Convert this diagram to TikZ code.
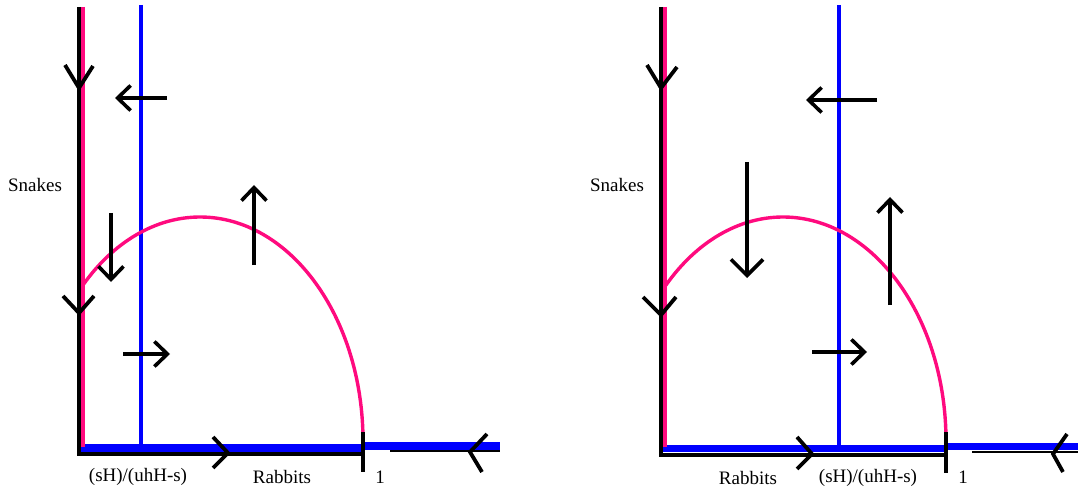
\documentclass[tikz,border=0pt]{standalone}
\usepackage{fontspec}
\setmainfont{Liberation Serif}
\usepackage{tikz}
\usetikzlibrary{arrows.meta}
\definecolor{cline-pink}{HTML}{FF0A7E}
\definecolor{cline-blue}{HTML}{0000FF}
\tikzset{
  phase-axis/.style={draw=black, line width=3.6pt},
  phase-tick/.style={draw=black, line width=3.4pt},
  phase-chevron/.style={draw=black, line width=3.8pt, line join=miter},
  pink-axis/.style={draw=cline-pink, line width=4.5pt},
  pink-curve/.style={draw=cline-pink, line width=3.4pt},
  blue-line/.style={draw=cline-blue, line width=3.2pt},
  blue-band/.style={fill=cline-blue},
  flow-arrow/.style={draw=black, line width=3.6pt, -{Straight Barb[length=13pt, width=25pt]}},
  flow-arrow-big/.style={draw=black, line width=3.6pt, -{Straight Barb[length=16pt, width=32pt]}},
  phase-label/.style={font=\fontsize{19}{22}\selectfont, inner sep=0pt}
}
\begin{document}
\begin{tikzpicture}[x=1pt, y=-1pt]
  \useasboundingbox (0,0) rectangle (1078,494);

  % Left panel: nullclines
  \fill[blue-band] (80,444) rectangle (363,452);
  \fill[blue-band] (363,442) rectangle (500,450);
  \draw[blue-line] (141,5) -- (141,446);
  \draw[pink-axis] (83,7) -- (83,447);
  \draw[pink-curve] (363,441) arc[start angle=0, end angle=-136, x radius=163, y radius=224];

  % Left panel: axes
  \draw[phase-axis] (79,7) -- (79,454) -- (363,454);
  \draw[draw=black, line width=2.4pt] (390,451) -- (500,451);
  \draw[phase-tick] (363,432) -- (363,472);

  % Left panel: flow along the axes
  \draw[phase-chevron] (65,65) -- (79,88) -- (93,66);
  \draw[phase-chevron] (63,296) -- (79,313) -- (94,296);
  \draw[phase-chevron] (213,437) -- (228,453) -- (213,468);
  \draw[phase-chevron] (487,434) -- (470,452) -- (482,472);

  % Left panel: flow in the regions
  \draw[flow-arrow] (167,98) -- (115,98);
  \draw[flow-arrow] (111,213) -- (111,282);
  \draw[flow-arrow] (254,265) -- (254,185);
  \draw[flow-arrow] (123,354) -- (170,354);

  % Left panel: labels
  \node[phase-label] (snakes-l) at (35,185) {Snakes};
  \node[phase-label] (equil-l) at (138,477) {(sH)/(uhH-s)};
  \node[phase-label] (rabbits-l) at (282,477) {Rabbits};
  \node[phase-label] (one-l) at (380,477) {1};

  % Right panel: nullclines
  \fill[blue-band] (662,445) rectangle (946,452);
  \fill[blue-band] (946,443) rectangle (1078,450);
  \draw[blue-line] (839,5) -- (839,446);
  \draw[pink-axis] (665,7) -- (665,447);
  \draw[pink-curve] (946,441) arc[start angle=0, end angle=-136, x radius=163, y radius=224];

  % Right panel: axes
  \draw[phase-axis] (661,7) -- (661,455) -- (946,455);
  \draw[draw=black, line width=2.4pt] (972,452) -- (1078,452);
  \draw[phase-tick] (946,432) -- (946,473);

  % Right panel: flow along the axes
  \draw[phase-chevron] (647,65) -- (661,88) -- (677,67);
  \draw[phase-chevron] (643,297) -- (661,315) -- (676,297);
  \draw[phase-chevron] (797,437) -- (812,454) -- (797,469);
  \draw[phase-chevron] (1067,434) -- (1053,454) -- (1063,472);

  % Right panel: flow in the regions
  \draw[flow-arrow] (877,100) -- (806,100);
  \draw[flow-arrow-big] (747,162) -- (747,278);
  \draw[flow-arrow] (890,305) -- (890,197);
  \draw[flow-arrow] (812,352) -- (867,352);

  % Right panel: labels
  \node[phase-label] (snakes-r) at (617,185) {Snakes};
  \node[phase-label] (rabbits-r) at (748,478) {Rabbits};
  \node[phase-label] (equil-r) at (868,478) {(sH)/(uhH-s)};
  \node[phase-label] (one-r) at (963,477) {1};
\end{tikzpicture}
\end{document}
